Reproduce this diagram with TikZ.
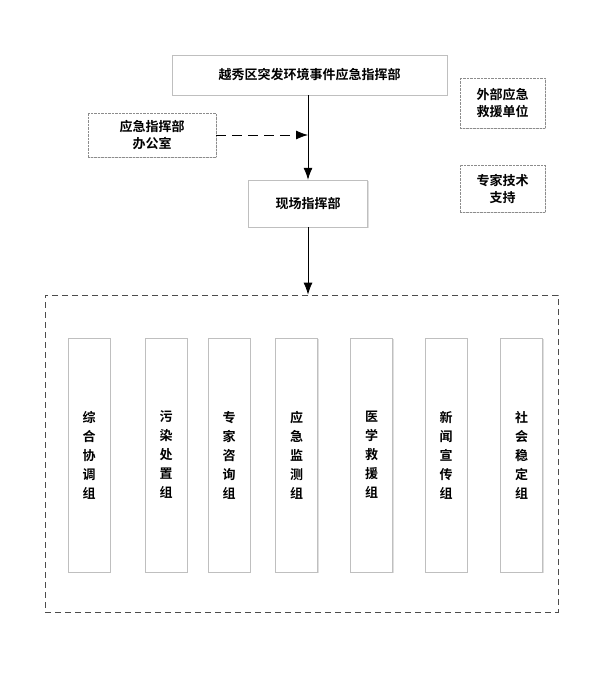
\documentclass[tikz,border=0pt]{standalone}
\usepackage{fontspec}
\setmainfont{Noto Sans CJK SC}[BoldFont={* Bold}]
\XeTeXlinebreaklocale "zh"
\usetikzlibrary{shadows,arrows.meta}
\tikzset{
	box/.style={draw=black!25,fill=white,drop shadow={shadow xshift=1pt,shadow yshift=-1pt,opacity=.25},font=\bfseries\fontsize{13}{17}\selectfont,align=center,inner sep=0pt},
	dotbox/.style={box,densely dotted,draw=black!45},
	col/.style={box,minimum width=42pt,minimum height=234pt,text width=15pt,font=\bfseries\fontsize{13}{19}\selectfont},
	link/.style={thick,-{Latex[length=12pt,width=9pt]}}
}
\begin{document}
\begin{tikzpicture}[x=1pt,y=-1pt]
	\useasboundingbox (0,0) rectangle (610,676);
	\node [box,minimum width=275pt,minimum height=40pt] (top) at (309.5,75) {越秀区突发环境事件应急指挥部};
	\node [dotbox,minimum width=128pt,minimum height=44pt] (office) at (152,135) {应急指挥部\\办公室};
	\node [box,minimum width=119pt,minimum height=47pt] (field) at (308,203.5) {现场指挥部};
	\node [dotbox,minimum width=85pt,minimum height=50pt] (ext) at (502.5,103) {外部应急\\救援单位};
	\node [dotbox,minimum width=85pt,minimum height=47pt] (expert) at (502.5,188.5) {专家技术\\支持};
	\node [draw=black!70,dash pattern=on 6pt off 4pt,thick,minimum width=513pt,minimum height=317pt] (groups) at (301.5,453.5) {};
	\foreach \x/\t [count=\i] in {89/综合协调组,166/污染处置组,229/专家咨询组,296.5/应急监测组,371.5/医学救援组,446/新闻宣传组,521.5/社会稳定组}
		\node [col] (g\i) at (\x,455) {\t};
	\coordinate (join) at (field.north |- office.east);
	\draw [link] (field.north |- top.south) -- (field.north);
	\draw [link,dash pattern=on 10pt off 6pt] (office.east) -- (join);
	\draw [link] (field.south) -- (groups.north -| field.south);
\end{tikzpicture}
\end{document}
